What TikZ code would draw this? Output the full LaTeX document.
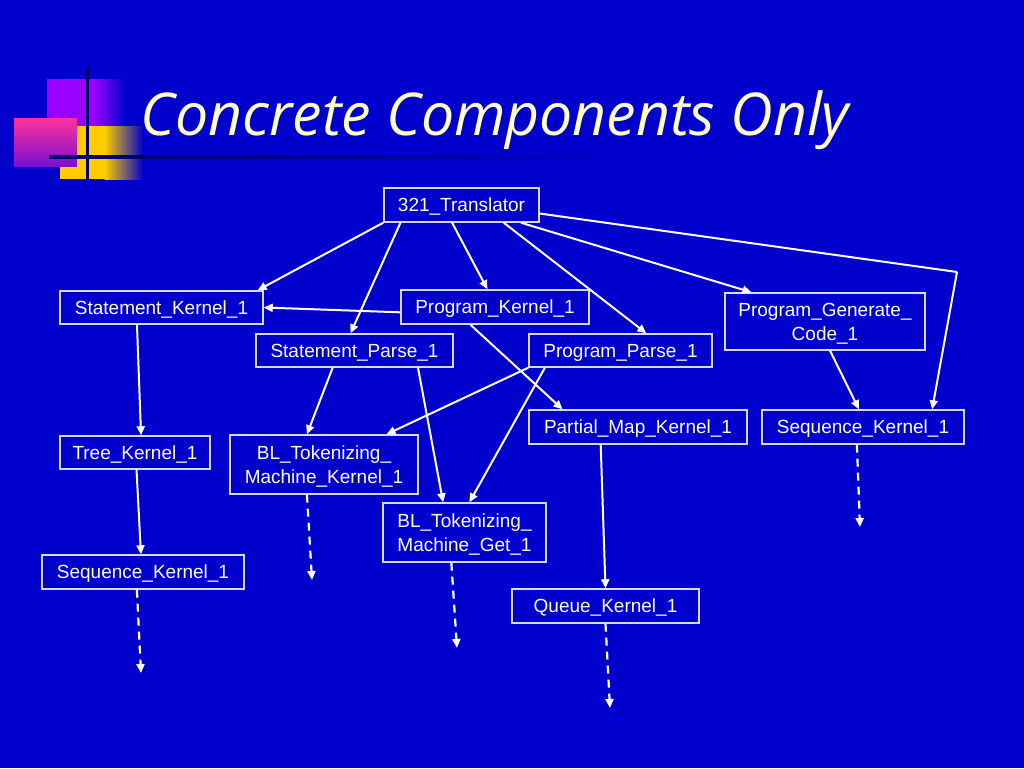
\documentclass[tikz,border=0pt]{standalone}
\usepackage{fontspec}
\setmainfont{Liberation Sans}
\newfontfamily\titlefont{Open Sans}
\usetikzlibrary{arrows.meta,calc}
\definecolor{bg}{HTML}{0000CC}
\definecolor{boxline}{HTML}{D8D8FF}
\definecolor{titlecol}{HTML}{FFFFCC}
\definecolor{violetc}{HTML}{9900FF}
\definecolor{goldc}{HTML}{FFCC00}
\definecolor{pinkc}{HTML}{FF3399}
\definecolor{pinkbot}{HTML}{7A10D0}
\definecolor{navyc}{HTML}{00006E}
\tikzset{
  box/.style={draw=boxline, line width=1.4pt, text=white, inner sep=0pt, align=center,
    font=\fontsize{19}{24}\selectfont, text height=13.7pt, text depth=0pt},
  box2/.style={box, text height=37.7pt, text depth=0pt},
  arr/.style={draw=white, line width=2pt, -{Triangle[length=9pt,width=8pt]}},
  darr/.style={draw=white, line width=2.2pt, dash pattern=on 8pt off 6pt, -{Triangle[length=9pt,width=8pt]}},
  plain/.style={draw=white, line width=2pt},
  titlestyle/.style={text=titlecol, font=\titlefont\itshape\fontsize{59}{63}\selectfont, anchor=base, inner sep=0pt}
}
\begin{document}
\begin{tikzpicture}[x=1pt,y=-1pt]
\fill[bg] (0,0) rectangle (1024,768);
\useasboundingbox (0,0) rectangle (1024,768);
% logo
\fill[violetc] (47,79) rectangle (95,127);
\shade[left color=violetc, right color=bg] (94.5,79) rectangle (125,127);
\fill[goldc] (60,126) rectangle (105,179);
\shade[left color=goldc, right color=bg] (104.5,126) rectangle (143,179);
\shade[top color=pinkc, bottom color=pinkbot] (14,118) rectangle (77,166);
\draw[navyc, line width=3pt] (87,67) -- (87,180);
\shade[left color=navyc, right color=bg] (49,155.5) rectangle (640,158.5);
\fill[navyc] (49,155.5) rectangle (143,158.5);
% title
\node[titlestyle] (title) at (495,135) {Concrete Components Only};
% nodes
\node[box, minimum width=155, minimum height=34] (t) at (461.5,205) {321\_Translator};
\node[box, minimum width=203, minimum height=33] (sk) at (161.5,307.5) {Statement\_Kernel\_1};
\node[box, minimum width=188, minimum height=34] (pk) at (495,307) {Program\_Kernel\_1};
\node[box2, minimum width=200, minimum height=57] (pgc) at (825,321.5) {Program\_Generate\_\\Code\_1};
\node[box, minimum width=197, minimum height=33] (sp) at (354.5,350.5) {Statement\_Parse\_1};
\node[box, minimum width=183, minimum height=33] (pp) at (620.5,350.5) {Program\_Parse\_1};
\node[box, minimum width=218, minimum height=34] (pmk) at (638,427) {Partial\_Map\_Kernel\_1};
\node[box, minimum width=202, minimum height=34] (skr) at (863,427) {Sequence\_Kernel\_1};
\node[box, minimum width=150, minimum height=33] (tk) at (135,452.5) {Tree\_Kernel\_1};
\node[box2, minimum width=188, minimum height=59] (blk) at (324,464.5) {BL\_Tokenizing\_\\Machine\_Kernel\_1};
\node[box2, minimum width=163, minimum height=59] (blg) at (464.5,532.5) {BL\_Tokenizing\_\\Machine\_Get\_1};
\node[box, minimum width=202, minimum height=34] (skl) at (143,572) {Sequence\_Kernel\_1};
\node[box, minimum width=187, minimum height=34] (q) at (605.5,606) {Queue\_Kernel\_1};
% free-end coordinates
\coordinate (corner) at (957,272);
\coordinate (eskl) at (141,673);
\coordinate (eblk) at (312,580);
\coordinate (eblg) at (457,648);
\coordinate (eq) at (610,708);
\coordinate (eskr) at (860,527);
% connectors from translator
\draw[arr] (t.south west) -- ($(sk.north west)!0.97!(sk.north east)$);
\draw[arr] ($(t.south west)!0.11!(t.south east)$) -- ($(sp.north west)!0.48!(sp.north east)$);
\draw[arr] ($(t.south west)!0.44!(t.south east)$) -- ($(pk.north west)!0.46!(pk.north east)$);
\draw[arr] ($(t.south west)!0.77!(t.south east)$) -- ($(pp.north west)!0.64!(pp.north east)$);
\draw[arr] ($(t.south west)!0.88!(t.south east)$) -- ($(pgc.north west)!0.135!(pgc.north east)$);
\draw[plain] ($(t.north east)!0.74!(t.south east)$) -- (corner);
\draw[arr] (corner) -- ($(skr.north west)!0.84!(skr.north east)$);
% others
\draw[arr] ($(pk.north west)!0.65!(pk.south west)$) -- (sk.east);
\draw[arr] ($(pk.south west)!0.37!(pk.south east)$) -- ($(pmk.north west)!0.156!(pmk.north east)$);
\draw[arr] ($(sk.south west)!0.38!(sk.south east)$) -- ($(tk.north west)!0.54!(tk.north east)$);
\draw[arr] ($(tk.south west)!0.51!(tk.south east)$) -- ($(skl.north west)!0.49!(skl.north east)$);
\draw[arr] ($(sp.south west)!0.39!(sp.south east)$) -- ($(blk.north west)!0.41!(blk.north east)$);
\draw[arr] ($(sp.south west)!0.82!(sp.south east)$) -- ($(blg.north west)!0.37!(blg.north east)$);
\draw[arr] (pp.south west) -- ($(blk.north west)!0.83!(blk.north east)$);
\draw[arr] ($(pp.south west)!0.09!(pp.south east)$) -- ($(blg.north west)!0.53!(blg.north east)$);
\draw[arr] ($(pgc.south west)!0.525!(pgc.south east)$) -- ($(skr.north west)!0.48!(skr.north east)$);
\draw[arr] ($(pmk.south west)!0.33!(pmk.south east)$) -- ($(q.north west)!0.5!(q.north east)$);
% dashed
\draw[darr] ($(skl.south west)!0.47!(skl.south east)$) -- (eskl);
\draw[darr] ($(blk.south west)!0.41!(blk.south east)$) -- (eblk);
\draw[darr] ($(blg.south west)!0.42!(blg.south east)$) -- (eblg);
\draw[darr] ($(q.south west)!0.5!(q.south east)$) -- (eq);
\draw[darr] ($(skr.south west)!0.47!(skr.south east)$) -- (eskr);
\end{tikzpicture}
\end{document}
